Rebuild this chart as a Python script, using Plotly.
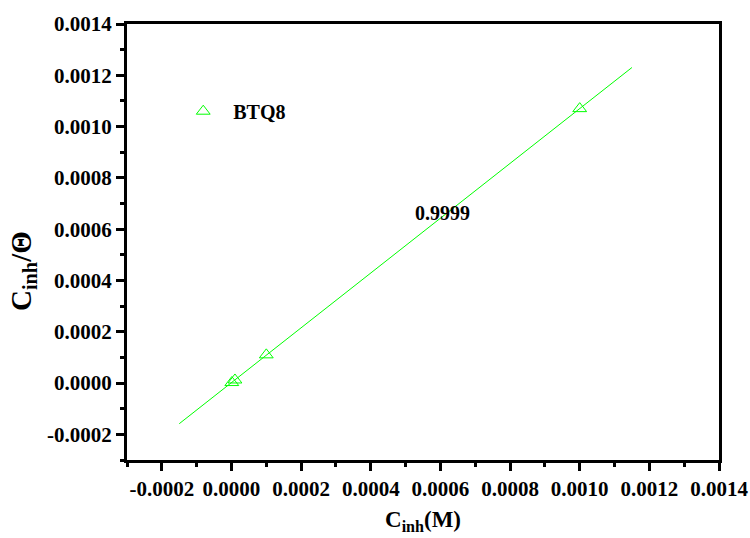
import numpy as np
import plotly.graph_objects as go

# Langmuir isotherm data for BTQ8
c_inh = [1e-6, 1e-5, 1e-4, 1e-3]              # inhibitor concentration (M)
c_over_theta = [2e-6, 1.2e-5, 1.1e-4, 1.07e-3]  # C_inh / theta
series_name = "BTQ8"
r_squared_label = "0.9999"
fit_span = [-0.00015, 0.00115]

tick_vals = [-0.0002, 0.0, 0.0002, 0.0004, 0.0006, 0.0008, 0.0010, 0.0012, 0.0014]
tick_text = ["-0.0002", "0.0000", "0.0002", "0.0004", "0.0006", "0.0008",
             "0.0010", "0.0012", "0.0014"]

GREEN = "rgb(0,255,0)"
FONT = "Liberation Serif"

slope, intercept = np.polyfit(c_inh, c_over_theta, 1)
fit_x = np.array(fit_span)
fit_y = slope * fit_x + intercept

fig = go.Figure()
fig.add_trace(go.Scatter(
    x=fit_x, y=fit_y, mode="lines",
    line=dict(color=GREEN, width=1), showlegend=False, hoverinfo="skip"))
fig.add_trace(go.Scatter(
    x=c_inh, y=c_over_theta, mode="markers", name="&nbsp;&nbsp;" + series_name,
    marker=dict(symbol="triangle-up-open", size=12, color=GREEN,
                line=dict(color=GREEN, width=1))))

fig.add_annotation(x=0.000607, y=0.000664, text="<b>" + r_squared_label + "</b>",
                   showarrow=False, font=dict(family=FONT, size=20, color="black"))

fig.add_annotation(xref="paper", yref="paper", x=0.5, y=-0.14,
                   text="<b>C<sub>inh</sub>(M)</b>", showarrow=False,
                   yanchor="middle", font=dict(family=FONT, size=23, color="black"))
fig.add_annotation(xref="paper", yref="paper", x=-0.176, y=0.433,
                   text="<b>C<sub>inh</sub>/Θ</b>", showarrow=False, textangle=-90,
                   xanchor="center", font=dict(family=FONT, size=29, color="black"))

axis_common = dict(
    showgrid=False, zeroline=False, showline=True, linecolor="black", linewidth=3,
    mirror=True, ticks="outside", ticklen=8, tickwidth=3, tickcolor="black",
    tickvals=tick_vals, ticktext=tick_text, ticklabeloverflow="allow",
    automargin=False,
    tickfont=dict(family=FONT, size=21, color="black", weight="bold"),
    minor=dict(ticks="outside", ticklen=4, tickwidth=3, tickcolor="black", dtick=0.0001),
)

fig.update_xaxes(range=[-0.0003, 0.0014], **axis_common)
fig.update_yaxes(range=[-0.0003, 0.0014], **axis_common)

fig.update_layout(
    width=750, height=538,
    margin=dict(l=127, r=31, t=24, b=78),
    plot_bgcolor="white", paper_bgcolor="white",
    font=dict(family=FONT, color="black"),
    legend=dict(x=0.095, y=0.80, xanchor="left", yanchor="middle",
                bgcolor="rgba(0,0,0,0)",
                font=dict(family=FONT, size=20, color="black", weight="bold")),
)

fig.write_html("out.html")
